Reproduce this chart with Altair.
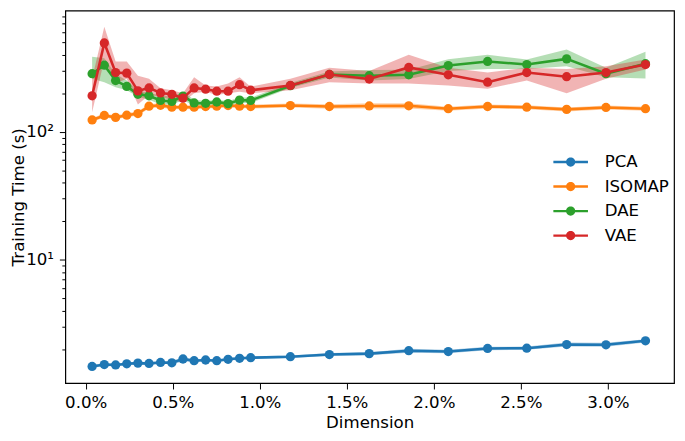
import altair as alt
import pandas as pd

# ---- data ----
dims = [0.00037, 0.00107, 0.00172, 0.00236, 0.00300, 0.00364, 0.00430, 0.00495,
        0.00559, 0.00623, 0.00689, 0.00753, 0.00818, 0.00884, 0.00948, 0.01176,
        0.01400, 0.01629, 0.01856, 0.02083, 0.02309, 0.02534, 0.02763, 0.02989,
        0.03216]

methods = ["PCA", "ISOMAP", "DAE", "VAE"]
colors = ["#1f77b4", "#ff7f0e", "#2ca02c", "#d62728"]

pca = [1.47, 1.52, 1.51, 1.54, 1.56, 1.55, 1.58, 1.57, 1.68, 1.63, 1.65, 1.63, 1.67,
       1.70, 1.72, 1.75, 1.82, 1.85, 1.95, 1.92, 2.03, 2.04, 2.18, 2.17, 2.33]
pca_lo = [1.43, 1.48, 1.47, 1.50, 1.52, 1.51, 1.54, 1.53, 1.60, 1.59, 1.61, 1.59, 1.63,
          1.66, 1.68, 1.71, 1.77, 1.80, 1.88, 1.86, 1.97, 1.98, 2.10, 2.09, 2.26]
pca_hi = [1.51, 1.56, 1.55, 1.58, 1.60, 1.59, 1.62, 1.61, 1.74, 1.67, 1.69, 1.67, 1.71,
          1.74, 1.76, 1.79, 1.87, 1.90, 2.02, 1.98, 2.09, 2.10, 2.26, 2.25, 2.40]

iso = [123.6, 134, 129.5, 134.8, 138.8, 158.3, 161, 155.6, 155.6, 155.6, 157.5, 158.3,
       160.2, 158.3, 157.5, 160.2, 157.5, 159, 159.4, 151.4, 157.5, 155.6, 149.5, 154.8, 151.4]
iso_lo = [119, 129, 125, 130, 134, 152, 155, 150, 150, 150, 152, 153, 155, 153, 152, 155,
          151, 152, 152, 146, 152, 150, 144, 149, 146]
iso_hi = [128, 139, 134, 140, 144, 165, 167, 161, 161, 161, 163, 164, 166, 164, 163, 166,
          164, 167, 167, 157, 163, 161, 155, 160, 157]

dae = [284, 331, 251, 226, 196, 191, 175.5, 172.6, 190, 168, 166.7, 170.8, 165.8, 176.7,
       175.5, 229, 280, 274, 278.6, 329, 354, 335, 371, 284, 340]
dae_lo = [260, 244, 223, 211, 188, 178, 163, 163, 176, 160, 160, 163, 158, 168, 168, 220,
          265, 251, 258, 298, 309, 309, 325, 266, 261]
dae_hi = [386, 375, 283, 251, 211, 200, 194, 187, 205, 178, 174, 178, 173, 186, 184, 240,
          295, 303, 305, 369, 400, 367, 438, 316, 421]

vae = [191, 494, 290, 287, 208.6, 220, 201, 196, 183, 220, 215, 207.5, 207.5, 233, 211,
       230, 280, 258, 318, 278.6, 244, 290, 269, 290, 335]
vae_lo = [142, 367, 238, 260, 163, 194, 187, 178, 169, 200, 205, 194, 200, 205, 200, 211,
          244, 238, 238, 230, 217, 251, 200, 260, 307]
vae_hi = [260, 660, 354, 354, 274, 260, 219, 211, 200, 266, 230, 226, 238, 266, 225, 260,
          316, 298, 400, 316, 290, 316, 309, 325, 367]

x_ticks = [0.0, 0.005, 0.01, 0.015, 0.02, 0.025, 0.03]
y_ticks = [2, 3, 4, 5, 6, 7, 8, 9, 10, 20, 30, 40, 50, 60, 70, 80, 90, 100,
           200, 300, 400, 500, 600, 700, 800]

series = {
    "PCA": (pca, pca_lo, pca_hi),
    "ISOMAP": (iso, iso_lo, iso_hi),
    "DAE": (dae, dae_lo, dae_hi),
    "VAE": (vae, vae_lo, vae_hi),
}
rows = []
for m in methods:
    v, lo, hi = series[m]
    for d, a, b, c in zip(dims, v, lo, hi):
        rows.append({"dim": d, "method": m, "value": a, "lo": b, "hi": c})
df = pd.DataFrame(rows)

FONT = "DejaVu Sans"
FS = 16.8

xscale = alt.Scale(domain=[-0.00117, 0.0338], nice=False, zero=False)
yscale = alt.Scale(type="log", domain=[1.09, 885], nice=False)
cscale = alt.Scale(domain=methods, range=colors)

xaxis = alt.Axis(values=x_ticks, format=".1%", labelFontSize=FS, labelFont=FONT,
                 labelColor="black", tickColor="black", tickSize=6, tickWidth=1,
                 labelPadding=6, domain=False, grid=False, title="Dimension",
                 titleFont=FONT, titleFontSize=FS, titleFontWeight="normal",
                 titleColor="black", titlePadding=3, labelFlush=False)
yaxis = alt.Axis(values=y_ticks,
                 labelExpr="datum.value == 100 ? '10\u00b2' : (datum.value == 10 ? '10\u00b9' : '')",
                 labelFontSize=FS, labelFont=FONT, labelColor="black",
                 tickColor="black", tickWidth=1,
                 tickSize={"condition": {"test": "datum.value == 10 || datum.value == 100",
                                         "value": 6}, "value": 3.5},
                 labelPadding=6, labelOverlap=False, domain=False, grid=False,
                 title="Training Time (s)", titleFont=FONT, titleFontSize=FS,
                 titleFontWeight="normal", titleColor="black", titleX=-38)

legend_path = ("M-3.5,-0.25L-0.5,-0.25L-0.5,0.25L-3.5,0.25Z "
               "M0.5,-0.25L3.5,-0.25L3.5,0.25L0.5,0.25Z "
               "M-0.94,0A0.94,0.94 0 1,1 0.94,0A0.94,0.94 0 1,1 -0.94,0Z")
legend = alt.Legend(title=None, orient="none", legendX=503, legendY=145,
                    symbolType=legend_path, symbolSize=100, symbolStrokeWidth=0,
                    symbolOpacity=1, labelFont=FONT, labelFontSize=FS,
                    labelColor="black", labelOffset=26, rowPadding=6.8, padding=0)

X = alt.X("dim:Q", scale=xscale, axis=xaxis, title="Dimension")

base = alt.Chart(df)

bands, lines = [], []
for i, m in enumerate(methods):
    sub = base.transform_filter(alt.datum.method == m)
    band = sub.mark_area(opacity=0.35, color=colors[i]).encode(
        x=X,
        y=alt.Y("lo:Q", scale=yscale, axis=yaxis, title="Training Time (s)"),
        y2="hi:Q",
    )
    line = sub.mark_line(strokeWidth=2.6, color=colors[i]).encode(
        x=X,
        y=alt.Y("value:Q", scale=yscale, axis=yaxis, title="Training Time (s)"),
    )
    pts = sub.mark_point(filled=True, size=88, opacity=1, strokeWidth=0).encode(
        x=X,
        y=alt.Y("value:Q", scale=yscale, axis=yaxis, title="Training Time (s)"),
        color=alt.Color("method:N", scale=cscale, legend=legend),
    )
    bands.append(band)
    lines += [line, pts]

chart = alt.layer(*(bands + lines)).properties(
    width=616, height=377,
    autosize=alt.AutoSizeParams(type="none"),
    padding={"left": 58, "top": 0, "right": 3, "bottom": 48},
).configure_view(stroke="black", strokeWidth=1.2)

chart.save("out.html", embed_options={"renderer": "svg", "actions": False})
